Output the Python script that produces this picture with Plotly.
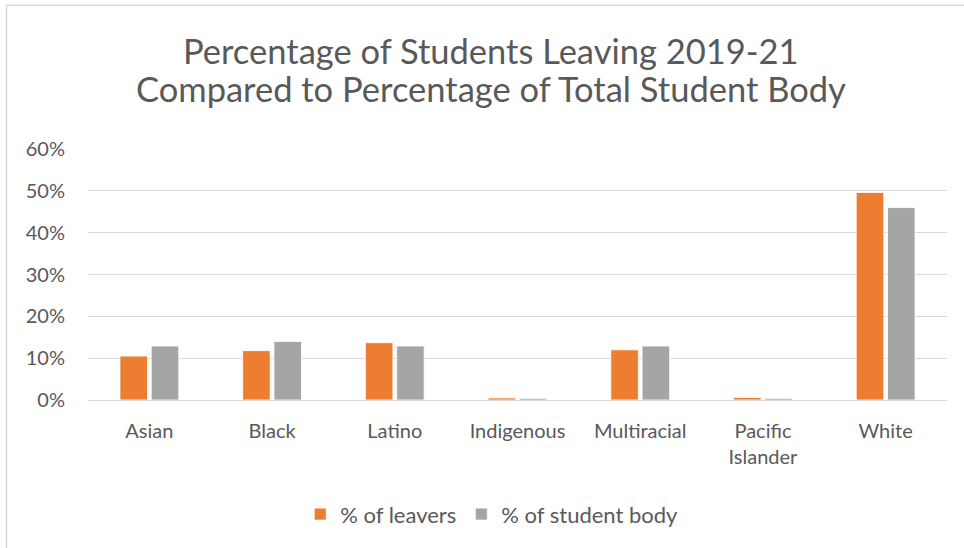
import plotly.graph_objects as go

categories = ["Asian", "Black", "Latino", "Indigenous", "Multiracial", "Pacific<br>Islander", "White"]
leavers = [10.5, 11.8, 13.7, 0.5, 12.0, 0.6, 49.6]
student_body = [12.9, 14.0, 12.9, 0.4, 12.9, 0.4, 46.0]
y_ticks = [0, 10, 20, 30, 40, 50, 60]
y_tick_labels = ["0%", "10%", "20%", "30%", "40%", "50%", "60%"]
title_lines = ["Percentage of Students Leaving 2019-21",
               "Compared to Percentage of Total Student Body"]

FONT = "Lato"
TXT = "#595959"
PLOT_TOP, PLOT_BOTTOM = 148.7, 399.7
PH = PLOT_BOTTOM - PLOT_TOP


def py(pix):
    return (PLOT_BOTTOM - pix) / PH


fig = go.Figure()
fig.add_trace(go.Bar(name="% of leavers", x=categories, y=leavers,
                     marker=dict(color="#ED7D31", line=dict(color="white", width=0.8))))
fig.add_trace(go.Bar(name="% of student body", x=categories, y=student_body,
                     marker=dict(color="#A5A5A5", line=dict(color="white", width=0.8))))

annotations = [
    dict(text=title_lines[0], xref="paper", yref="paper", x=(491 - 88) / 859, y=py(50),
         xanchor="center", yanchor="middle", showarrow=False,
         font=dict(family=FONT, size=34.5, color=TXT)),
    dict(text=title_lines[1], xref="paper", yref="paper", x=(491 - 88) / 859, y=py(88),
         xanchor="center", yanchor="middle", showarrow=False,
         font=dict(family=FONT, size=34.5, color=TXT)),
]

fig.update_layout(
    width=964, height=548,
    margin=dict(l=88, r=17, t=PLOT_TOP, b=548 - PLOT_BOTTOM),
    paper_bgcolor="white", plot_bgcolor="white",
    barmode="group", bargap=0.49, bargroupgap=0.12,
    font=dict(family=FONT, color=TXT, size=20),
    showlegend=True,
    legend=dict(orientation="h", x=0.47, xanchor="center", y=py(514), yanchor="middle",
                font=dict(size=22, color=TXT), traceorder="normal", itemwidth=30),
    xaxis=dict(showgrid=False, showline=False, ticks="", ticklabelstandoff=17,
               tickfont=dict(size=20, color=TXT)),
    yaxis=dict(range=[0, 60], tickvals=y_ticks, ticktext=y_tick_labels,
               showgrid=True, gridcolor="#D9D9D9", gridwidth=1.3,
               zeroline=True, zerolinecolor="#D9D9D9", zerolinewidth=1.3,
               showline=False, ticks="", ticklabelstandoff=22,
               tickfont=dict(size=20, color=TXT)),
    annotations=annotations,
    shapes=[dict(type="rect", xref="paper", yref="paper",
                 x0=(6.5 - 88) / 859, x1=1.2, y0=-0.8, y1=py(5),
                 line=dict(color="#D9D9D9", width=1.5), fillcolor="rgba(0,0,0,0)", layer="below")],
)

fig.write_html("out.html", config={"displayModeBar": False},
               post_script="document.body.style.margin='0';")
